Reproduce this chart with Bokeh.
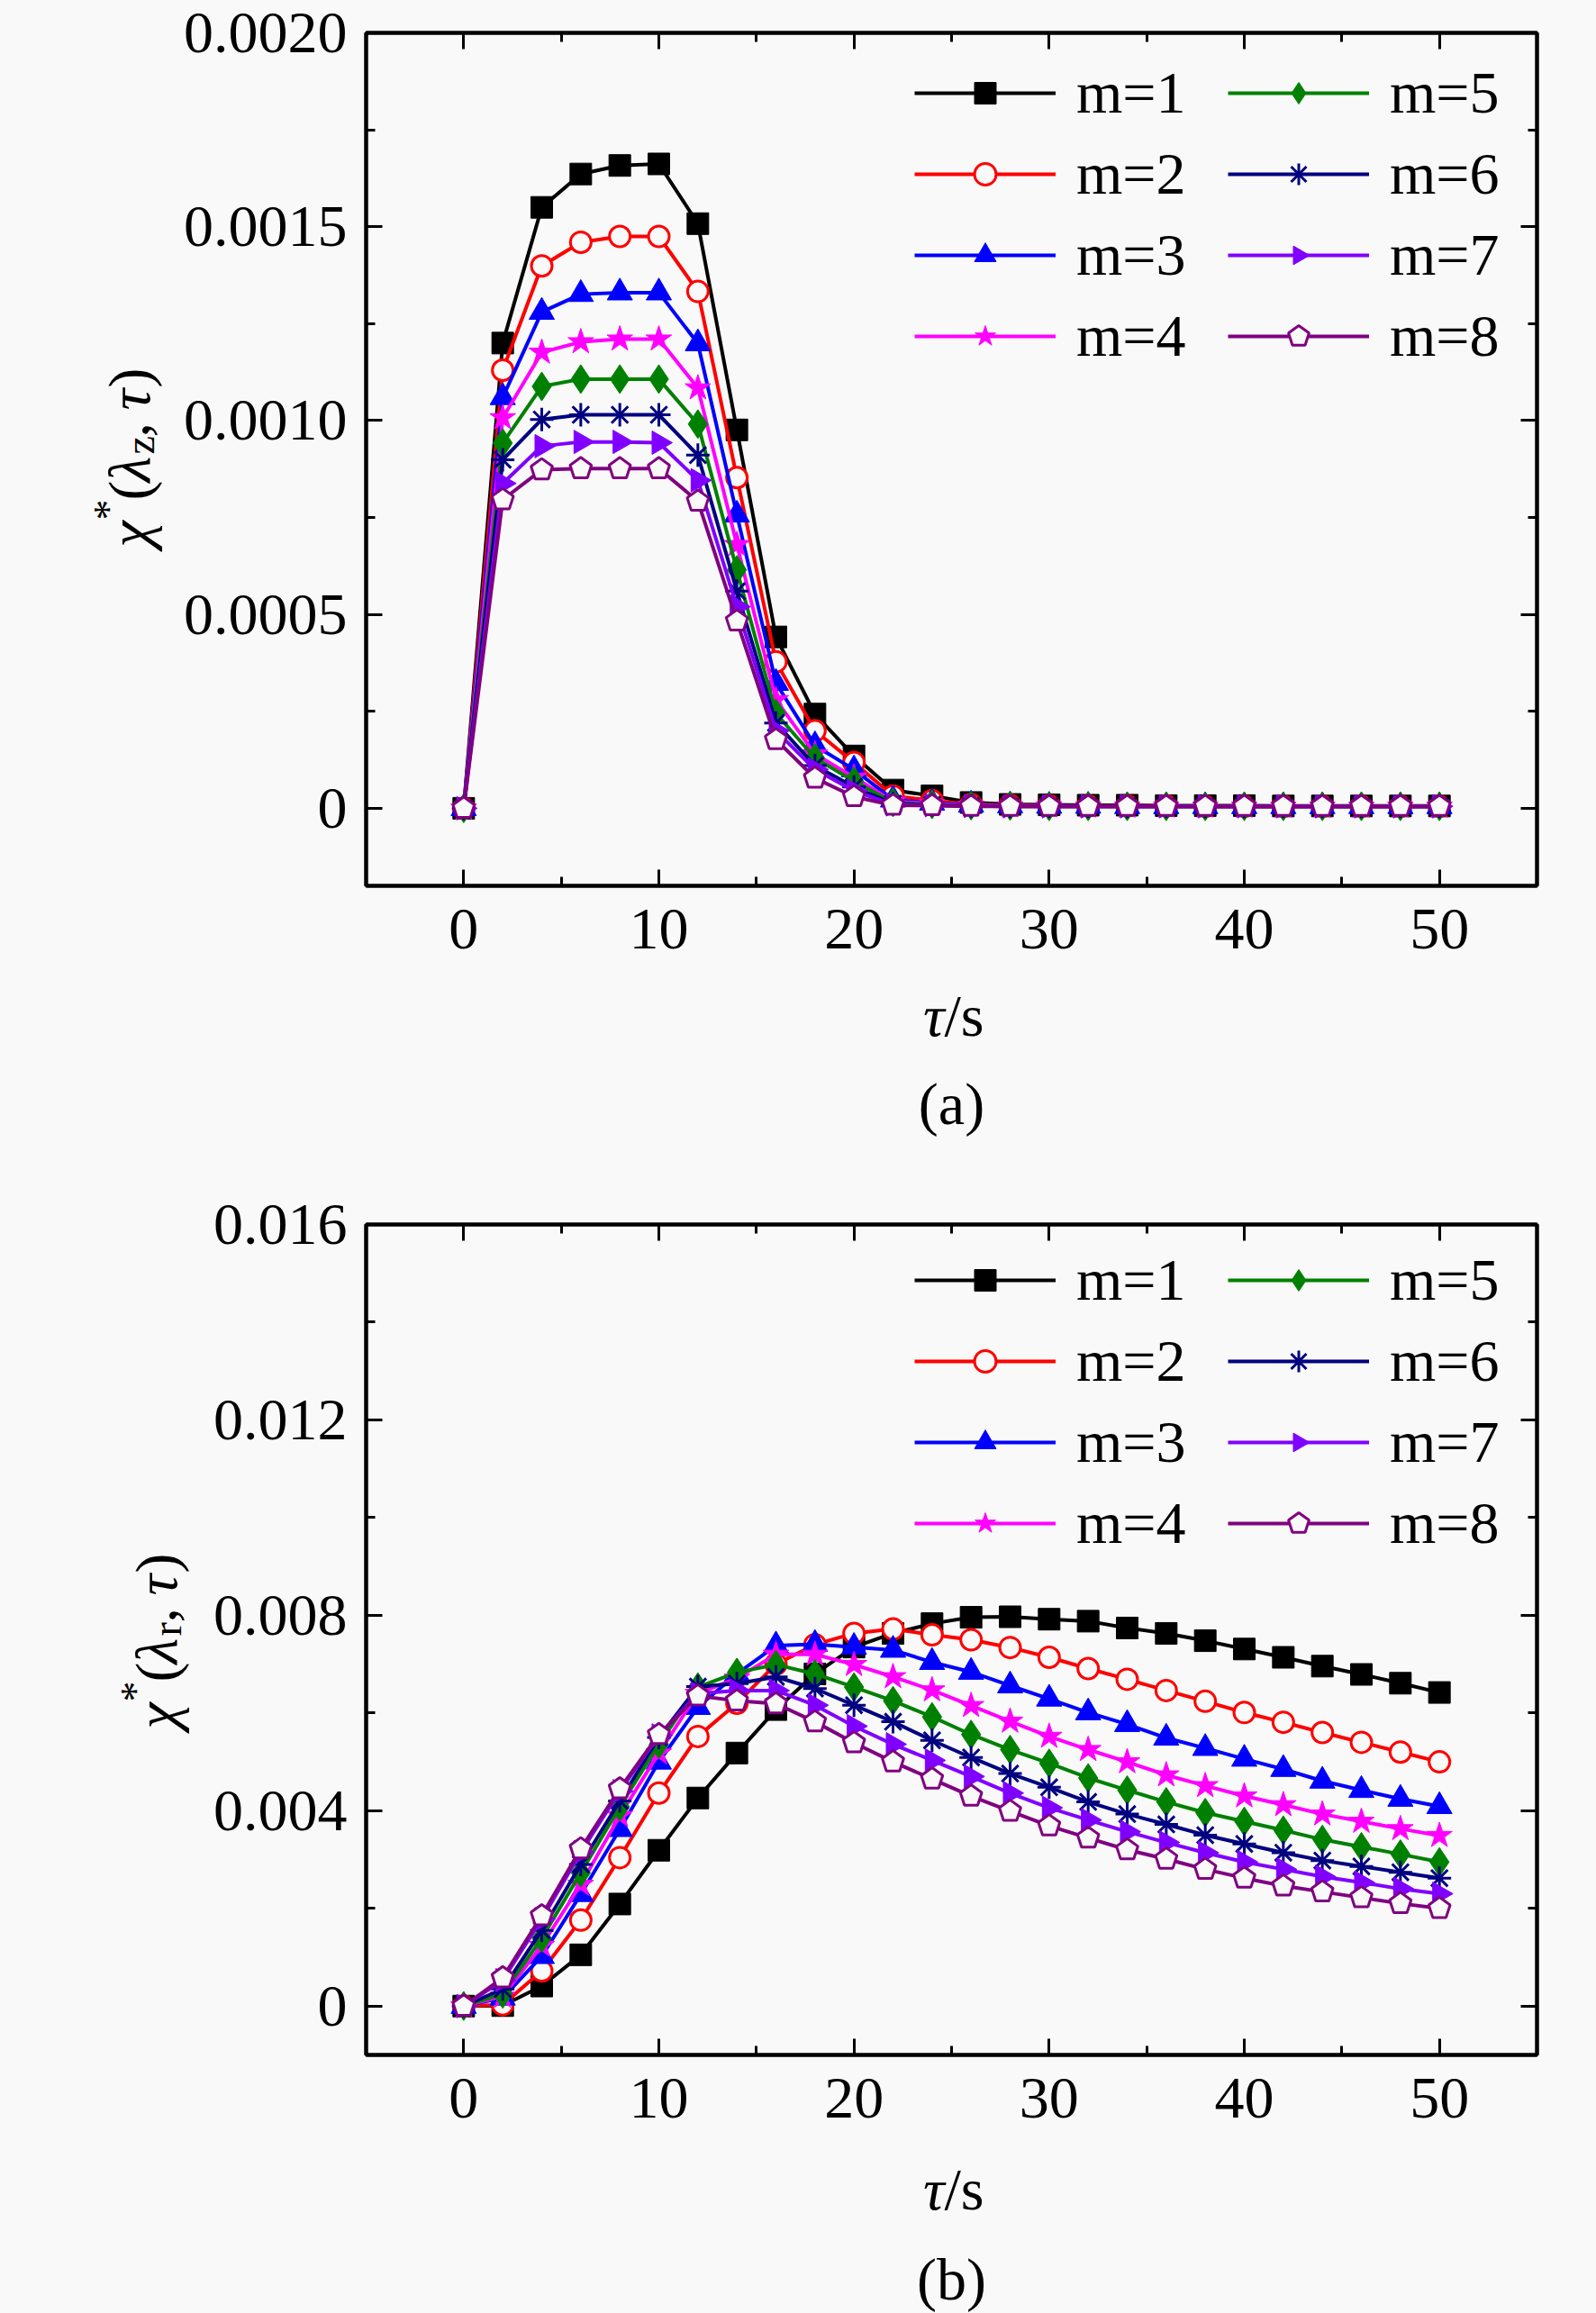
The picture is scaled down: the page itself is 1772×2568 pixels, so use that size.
import math
from bokeh.plotting import figure
from bokeh.models import (ColumnDataSource, Range1d, LinearAxis, FixedTicker, Legend,
                          LegendItem, Label, CustomJSTickFormatter)
from bokeh.layouts import column, row
from bokeh.embed import file_html
from bokeh.resources import INLINE

# ---------------- data ----------------
tau = [0, 2, 4, 6, 8, 10, 12, 14, 16, 18, 20, 22, 24, 26, 28, 30, 32, 34, 36, 38, 40, 42, 44, 46, 48, 50]
m_labels = ["m=1", "m=2", "m=3", "m=4", "m=5", "m=6", "m=7", "m=8"]

# panel (a): chi*(lambda_z, tau)
za_m1 = [0, 0.001200, 0.001550, 0.001636, 0.001658, 0.001662, 0.001508, 0.000976, 0.000442, 0.000243, 0.000135, 0.000047, 0.000032, 0.000015, 0.000010, 0.000009, 0.000008, 0.000008, 0.000007, 0.000007, 0.000007, 0.000006, 0.000006, 0.000006, 0.000006, 0.000006]
za_m2 = [0, 0.001130, 0.001399, 0.001460, 0.001475, 0.001475, 0.001333, 0.000853, 0.000378, 0.000200, 0.000118, 0.000032, 0.000020, 0.000010, 0.000008, 0.000007, 0.000006, 0.000006, 0.000006, 0.000005, 0.000005, 0.000005, 0.000005, 0.000005, 0.000005, 0.000005]
za_m3 = [0, 0.001060, 0.001280, 0.001326, 0.001330, 0.001330, 0.001199, 0.000757, 0.000323, 0.000162, 0.000100, 0.000022, 0.000014, 0.000009, 0.000007, 0.000006, 0.000006, 0.000005, 0.000005, 0.000005, 0.000005, 0.000005, 0.000005, 0.000005, 0.000005, 0.000005]
za_m4 = [0, 0.001007, 0.001176, 0.001203, 0.001210, 0.001210, 0.001084, 0.000680, 0.000280, 0.000140, 0.000080, 0.000018, 0.000012, 0.000008, 0.000006, 0.000006, 0.000005, 0.000005, 0.000005, 0.000005, 0.000005, 0.000005, 0.000005, 0.000005, 0.000005, 0.000005]
za_m5 = [0, 0.000942, 0.001088, 0.001107, 0.001107, 0.001107, 0.000991, 0.000615, 0.000245, 0.000130, 0.000070, 0.000015, 0.000010, 0.000007, 0.000006, 0.000005, 0.000005, 0.000005, 0.000005, 0.000005, 0.000005, 0.000005, 0.000005, 0.000005, 0.000005, 0.000005]
za_m6 = [0, 0.000899, 0.001003, 0.001015, 0.001015, 0.001015, 0.000911, 0.000560, 0.000220, 0.000110, 0.000055, 0.000012, 0.000009, 0.000006, 0.000005, 0.000005, 0.000005, 0.000005, 0.000005, 0.000005, 0.000005, 0.000005, 0.000005, 0.000005, 0.000005, 0.000005]
za_m7 = [0, 0.000838, 0.000934, 0.000945, 0.000945, 0.000943, 0.000846, 0.000520, 0.000200, 0.000100, 0.000045, 0.000010, 0.000008, 0.000006, 0.000005, 0.000005, 0.000005, 0.000005, 0.000005, 0.000005, 0.000005, 0.000005, 0.000005, 0.000005, 0.000005, 0.000005]
za_m8 = [0, 0.000796, 0.000873, 0.000876, 0.000876, 0.000876, 0.000792, 0.000483, 0.000177, 0.000078, 0.000030, 0.000008, 0.000007, 0.000005, 0.000005, 0.000005, 0.000005, 0.000005, 0.000005, 0.000005, 0.000005, 0.000005, 0.000005, 0.000005, 0.000005, 0.000005]

# panel (b): chi*(lambda_r, tau)
rb_m1 = [0, 0.00001, 0.00041, 0.00105, 0.00209, 0.00319, 0.00426, 0.00518, 0.00607, 0.00680, 0.00735, 0.00763, 0.00783, 0.00796, 0.00797, 0.00792, 0.00788, 0.00774, 0.00763, 0.00748, 0.00731, 0.00714, 0.00696, 0.00679, 0.00661, 0.00642]
rb_m2 = [0, 0.00003, 0.00072, 0.00176, 0.00304, 0.00436, 0.00552, 0.00620, 0.00700, 0.00740, 0.00763, 0.00772, 0.00760, 0.00750, 0.00734, 0.00714, 0.00691, 0.00669, 0.00646, 0.00624, 0.00601, 0.00581, 0.00560, 0.00540, 0.00520, 0.00500]
rb_m3 = [0, 0.00017, 0.00102, 0.00229, 0.00362, 0.00500, 0.00612, 0.00680, 0.00738, 0.00741, 0.00735, 0.00729, 0.00704, 0.00684, 0.00656, 0.00629, 0.00601, 0.00577, 0.00549, 0.00528, 0.00506, 0.00485, 0.00461, 0.00442, 0.00424, 0.00409]
rb_m4 = [0, 0.00020, 0.00124, 0.00249, 0.00390, 0.00518, 0.00640, 0.00671, 0.00720, 0.00720, 0.00699, 0.00674, 0.00647, 0.00615, 0.00583, 0.00552, 0.00525, 0.00500, 0.00473, 0.00451, 0.00430, 0.00412, 0.00393, 0.00378, 0.00363, 0.00349]
rb_m5 = [0, 0.00025, 0.00139, 0.00273, 0.00408, 0.00536, 0.00653, 0.00683, 0.00699, 0.00680, 0.00653, 0.00625, 0.00592, 0.00556, 0.00525, 0.00497, 0.00467, 0.00442, 0.00418, 0.00396, 0.00378, 0.00360, 0.00341, 0.00326, 0.00311, 0.00295]
rb_m6 = [0, 0.00035, 0.00155, 0.00290, 0.00420, 0.00550, 0.00654, 0.00660, 0.00674, 0.00650, 0.00616, 0.00582, 0.00544, 0.00509, 0.00476, 0.00448, 0.00418, 0.00393, 0.00372, 0.00350, 0.00332, 0.00314, 0.00298, 0.00286, 0.00274, 0.00262]
rb_m7 = [0, 0.00053, 0.00178, 0.00315, 0.00440, 0.00554, 0.00640, 0.00646, 0.00646, 0.00616, 0.00573, 0.00536, 0.00503, 0.00470, 0.00436, 0.00406, 0.00381, 0.00357, 0.00335, 0.00314, 0.00295, 0.00280, 0.00265, 0.00253, 0.00240, 0.00230]
rb_m8 = [0, 0.00058, 0.00185, 0.00322, 0.00445, 0.00556, 0.00635, 0.00625, 0.00619, 0.00582, 0.00539, 0.00500, 0.00465, 0.00430, 0.00399, 0.00369, 0.00344, 0.00320, 0.00301, 0.00280, 0.00262, 0.00246, 0.00234, 0.00222, 0.00210, 0.00200]

x_ticks = [0, 10, 20, 30, 40, 50]
x_minor = [5, 15, 25, 35, 45]
ya_ticks = [0, 0.0005, 0.0010, 0.0015, 0.0020]
ya_minor = [0.00025, 0.00075, 0.00125, 0.00175]
ya_tick_labels = ["0", "0.0005", "0.0010", "0.0015", "0.0020"]
yb_ticks = [0, 0.004, 0.008, 0.012, 0.016]
yb_minor = [0.002, 0.006, 0.010, 0.014]
yb_tick_labels = ["0", "0.004", "0.008", "0.012", "0.016"]

# ---------------- styles / layout constants ----------------
FONT = "Liberation Serif"
FS = "66px"
BG = "#f9f9f9"
colors = ["#000000", "#ff0000", "#0000ff", "#ff00ff", "#008000", "#000080", "#8000ff", "#800080"]
markers = ["square", "circle", "triangle", "star", "diamond", "asterisk", "ngon3", "ngon5"]
msizes = [24, 23, 28, 30, 32, 26, 15, 12.5]
filled = [True, False, True, True, True, False, True, False]

TOTAL_W = 1772
FRAME_LEFT = 406    # page x of the plot frame's left edge
RIGHT_B = 66
FRAME_W = 1300
BOTTOM_B = 100


def style_axis(ax, labels=True, standoff=15):
    ax.major_tick_in = 18
    ax.major_tick_out = 0
    ax.minor_tick_in = 10
    ax.minor_tick_out = 0
    ax.major_tick_line_width = 3
    ax.minor_tick_line_width = 3
    ax.axis_line_width = 4
    ax.major_label_text_font = FONT
    ax.major_label_text_color = "black"
    if labels:
        ax.major_label_text_font_size = FS
        ax.major_label_standoff = standoff
    else:
        ax.major_label_text_font_size = "1px"
        ax.major_label_standoff = 0
        ax.formatter = CustomJSTickFormatter(code="return ''")


def text_strip(w, h, yr):
    f = figure(width=w, height=h, x_range=Range1d(0, w), y_range=Range1d(0, yr),
               x_axis_type=None, y_axis_type=None, min_border=0,
               min_border_left=0, min_border_right=0, min_border_top=0, min_border_bottom=0,
               output_backend="svg", toolbar_location=None)
    f.background_fill_color = BG
    f.border_fill_color = BG
    f.outline_line_color = None
    f.grid.visible = False
    return f


def make_panel(series, y_start, y_end, yticks, yminor, ytlabels, sub, caption, ylab_w,
               frame_height, border_top, legend_top, ylab_base_x, ylab_center_below_top,
               bottom_h, xlab_from_top, cap_from_top):
    left_b = FRAME_LEFT - ylab_w
    p = figure(frame_width=FRAME_W, frame_height=frame_height,
               min_border_left=left_b, min_border_right=RIGHT_B,
               min_border_top=border_top, min_border_bottom=BOTTOM_B,
               x_range=Range1d(-5, 55), y_range=Range1d(y_start, y_end),
               output_backend="svg", toolbar_location=None)
    p.background_fill_color = BG
    p.border_fill_color = BG
    p.outline_line_color = "black"
    p.outline_line_width = 4
    p.grid.visible = False

    p.xaxis.ticker = FixedTicker(ticks=x_ticks, minor_ticks=x_minor)
    p.yaxis.ticker = FixedTicker(ticks=yticks, minor_ticks=yminor)
    p.yaxis.major_label_overrides = {t: l for t, l in zip(yticks, ytlabels)}
    style_axis(p.xaxis[0], True, 26)
    style_axis(p.yaxis[0], True, 21)

    top = LinearAxis(ticker=FixedTicker(ticks=x_ticks, minor_ticks=x_minor))
    style_axis(top, labels=False)
    p.add_layout(top, "above")
    right = LinearAxis(ticker=FixedTicker(ticks=yticks, minor_ticks=yminor))
    style_axis(right, labels=False)
    p.add_layout(right, "right")

    items = []
    for i, ys in enumerate(series):
        src = ColumnDataSource(dict(x=tau, y=ys))
        c = colors[i]
        lr = p.line("x", "y", source=src, line_color=c, line_width=4)
        if markers[i] == "ngon5":
            sr = p.ngon(x="x", y="y", radius=msizes[i], radius_units="screen", n=5,
                        angle=0, source=src,
                        fill_color=BG, line_color=c, line_width=3)
        elif markers[i] == "ngon3":
            sr = p.ngon(x="x", y="y", radius=msizes[i], radius_units="screen", n=3,
                        angle=-math.pi / 2, source=src,
                        fill_color=c, line_color=c, line_width=1)
        else:
            sr = p.scatter("x", "y", source=src, marker=markers[i], size=msizes[i],
                           fill_color=c if filled[i] else BG, line_color=c,
                           line_width=3 if not filled[i] else 1)
        items.append(LegendItem(label=m_labels[i], renderers=[lr, sr]))

    item_h, spacing = 76, 14
    leg_h = 4 * item_h + 3 * spacing
    leg = Legend(items=items, nrows=4, orientation="vertical",
                 location=(609, frame_height - legend_top - leg_h))
    leg.label_text_font = FONT
    leg.label_text_font_size = FS
    leg.label_text_color = "black"
    leg.glyph_width = 157
    leg.glyph_height = 60
    leg.label_standoff = 23
    leg.label_width = 154
    leg.spacing = spacing
    leg.padding = 0
    leg.margin = 0
    leg.border_line_color = None
    leg.background_fill_alpha = 0
    p.add_layout(leg, "center")

    plot_h = border_top + frame_height + BOTTOM_B

    # y-axis title strip (its frame is aligned with the plot frame):
    # chi*(lambda_sub, tau) built from pieces
    ys_fig = text_strip(ylab_w, plot_h, frame_height)
    cy = frame_height - ylab_center_below_top
    sub_w = 18 if sub == "z" else 14
    pieces = [("\u03c7", "italic", "66px", 0, 0),
              ("*", "normal", "46px", -23, 30),
              ("(", "normal", "66px", 0, 52),
              ("\u03bb", "italic", "66px", 0, 72),
              (sub, "normal", "46px", 12, 103),
              (",", "normal", "66px", 0, 103 + sub_w + 1),
              ("\u03c4", "italic", "66px", 0, 103 + sub_w + 31),
              (")", "normal", "66px", 0, 103 + sub_w + 56)]
    total = 103 + sub_w + 77
    for t, st, fs, dx, pos in pieces:
        ys_fig.add_layout(Label(x=ylab_base_x + dx, y=cy - total / 2 + pos,
                                text=t, angle=math.pi / 2, text_align="left",
                                text_baseline="alphabetic", text_font=FONT,
                                text_font_style=st, text_font_size=fs, text_color="black"))

    # strip below: x-axis title and caption
    cx = FRAME_LEFT + FRAME_W / 2
    bt = text_strip(TOTAL_W, bottom_h, bottom_h)
    bt.add_layout(Label(x=cx - 8, y=bottom_h - xlab_from_top, text="\u03c4",
                        text_align="right", text_baseline="middle", text_font=FONT,
                        text_font_style="italic", text_font_size=FS, text_color="black"))
    bt.add_layout(Label(x=cx - 8, y=bottom_h - xlab_from_top, text="/s",
                        text_align="left", text_baseline="middle", text_font=FONT,
                        text_font_style="normal", text_font_size=FS, text_color="black"))
    bt.add_layout(Label(x=cx, y=bottom_h - cap_from_top, text=caption,
                        text_align="center", text_baseline="middle", text_font=FONT,
                        text_font_size=FS, text_color="black"))
    return column(row(ys_fig, p, styles={"background-color": BG}), bt,
                  styles={"background-color": BG})


# panel (a): frame 36..983 ; strip below down to 1319
pa = make_panel([za_m1, za_m2, za_m3, za_m4, za_m5, za_m6, za_m7, za_m8],
                -0.0002, 0.0020, ya_ticks, ya_minor, ya_tick_labels, "z", "(a)", 200,
                frame_height=947, border_top=36, legend_top=29,
                ylab_base_x=143, ylab_center_below_top=508 - 36,
                bottom_h=1319 - 1083, xlab_from_top=1127 - 1083, cap_from_top=1225 - 1083)
# panel (b): frame 1359..2281 ; strip below down to 2568
pb = make_panel([rb_m1, rb_m2, rb_m3, rb_m4, rb_m5, rb_m6, rb_m7, rb_m8],
                -0.001, 0.016, yb_ticks, yb_minor, yb_tick_labels, "r", "(b)", 222,
                frame_height=922, border_top=40, legend_top=24,
                ylab_base_x=173, ylab_center_below_top=1822 - 1359,
                bottom_h=2568 - 2381, xlab_from_top=2430 - 2381, cap_from_top=2530 - 2381)

layout = column(pa, pb, styles={"background-color": BG})
open("out.html", "w").write(file_html(layout, INLINE))
